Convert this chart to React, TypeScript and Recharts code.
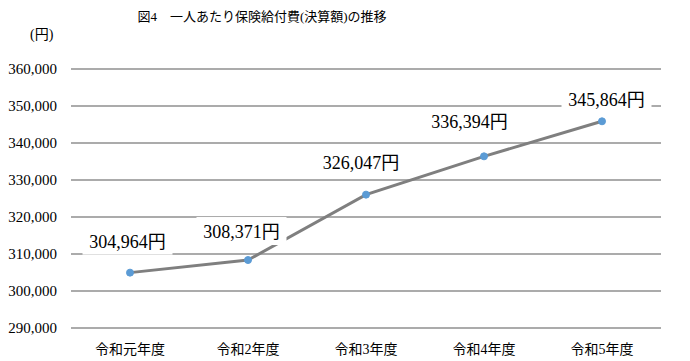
import React from "react";
import { LineChart, Line, XAxis, YAxis, CartesianGrid } from "recharts";

const YEARS = ["令和元年度", "令和2年度", "令和3年度", "令和4年度", "令和5年度"];
const COST_PER_PERSON = [304964, 308371, 326047, 336394, 345864];
const Y_TICKS = [290000, 300000, 310000, 320000, 330000, 340000, 350000, 360000];

// where each data label sits relative to its point (hand placed in the original)
const LABEL_OFFSETS = [
  [-2.5, -31],
  [-6.5, -28],
  [-5, -32],
  [-14.5, -34],
  [4.5, -21],
];

const FONT = "'Liberation Serif', 'Noto Sans CJK JP', serif";

const data = YEARS.map((name, i) => ({ name, value: COST_PER_PERSON[i] }));

const renderLabel = (props: any) => {
  const { x, y, value, index } = props;
  const [dx, dy] = LABEL_OFFSETS[index] || [0, -25];
  const cx = x + dx;
  const cy = y + dy;
  const text = Number(value).toLocaleString("en-US") + "円";
  const w = 90;
  return (
    <g key={`lbl-${index}`}>
      <rect x={cx - w / 2} y={cy - 15} width={w} height={28} fill="#fff" />
      <text
        x={cx}
        y={cy}
        textAnchor="middle"
        dominantBaseline="central"
        style={{ fontFamily: FONT, fontSize: 18 }}
        fill="#000"
      >
        {text}
      </text>
    </g>
  );
};

const XTick = (props: any) => {
  const { x, y, payload } = props;
  return (
    <text
      x={x}
      y={y + 8}
      textAnchor="middle"
      dominantBaseline="hanging"
      style={{ fontFamily: FONT, fontSize: 14 }}
      fill="#000"
    >
      {payload.value}
    </text>
  );
};

const YTick = (props: any) => {
  const { x, y, payload } = props;
  return (
    <text
      x={x}
      y={y}
      textAnchor="end"
      dominantBaseline="central"
      style={{ fontFamily: FONT, fontSize: 15 }}
      fill="#000"
    >
      {Number(payload.value).toLocaleString("en-US")}
    </text>
  );
};

export default function App() {
  return (
    <div
      style={{
        position: "absolute",
        left: 0,
        top: 0,
        width: 690,
        height: 361,
        background: "#fff",
        fontFamily: FONT,
      }}
    >
      <div
        style={{
          position: "absolute",
          left: 262,
          top: 15,
          transform: "translate(-50%, -50%)",
          fontSize: 13,
          whiteSpace: "nowrap",
          color: "#000",
        }}
      >
        図4　一人あたり保険給付費(決算額)の推移
      </div>
      <div
        style={{
          position: "absolute",
          left: 30,
          top: 33,
          transform: "translateY(-50%)",
          fontSize: 14,
          color: "#000",
        }}
      >
        (円)
      </div>
      <LineChart
        width={690}
        height={361}
        data={data}
        margin={{ top: 69, right: 29, left: 0, bottom: 0 }}
      >
        <CartesianGrid vertical={false} stroke="#595959" strokeWidth={1.2} />
        <XAxis
          dataKey="name"
          axisLine={false}
          tickLine={false}
          padding={{ left: 59, right: 59 }}
          height={33}
          interval={0}
          tick={<XTick />}
        />
        <YAxis
          domain={[290000, 360000]}
          ticks={Y_TICKS}
          width={71}
          axisLine={false}
          tickLine={false}
          tickMargin={8}
          interval={0}
          tick={<YTick />}
        />
        <Line
          type="linear"
          dataKey="value"
          stroke="#7f7f7f"
          strokeWidth={3}
          dot={{ r: 3.5, fill: "#5b9bd5", stroke: "#5b9bd5", strokeWidth: 1 }}
          label={renderLabel}
          isAnimationActive={false}
        />
      </LineChart>
    </div>
  );
}
